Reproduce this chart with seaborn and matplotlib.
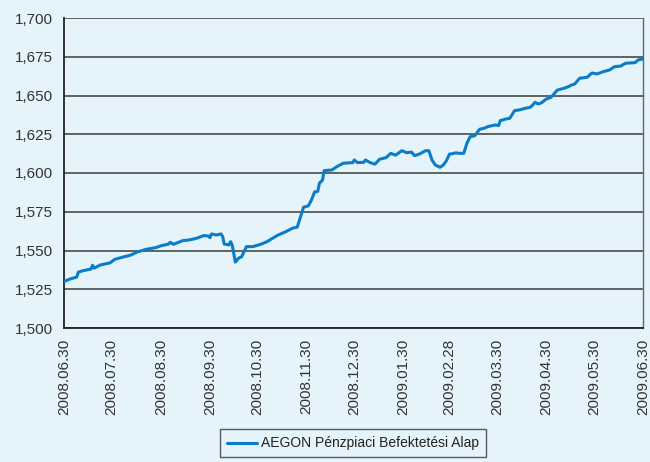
import matplotlib
matplotlib.use("Agg")
import matplotlib.pyplot as plt
import matplotlib.ticker as mticker
import seaborn as sns
import pandas as pd

dates = [
    "2008-06-30", "2008-07-04", "2008-07-08", "2008-07-09", "2008-07-12", "2008-07-17",
    "2008-07-18", "2008-07-19", "2008-07-23", "2008-07-29", "2008-08-01", "2008-08-06",
    "2008-08-11", "2008-08-15", "2008-08-21", "2008-08-27", "2008-08-30", "2008-09-04",
    "2008-09-05", "2008-09-07", "2008-09-13", "2008-09-17", "2008-09-22", "2008-09-26",
    "2008-09-29", "2008-09-30", "2008-10-01", "2008-10-04", "2008-10-07", "2008-10-08",
    "2008-10-09", "2008-10-12", "2008-10-13", "2008-10-14", "2008-10-15", "2008-10-16",
    "2008-10-18", "2008-10-20", "2008-10-23", "2008-10-27", "2008-11-01", "2008-11-05",
    "2008-11-08", "2008-11-12", "2008-11-17", "2008-11-21", "2008-11-24", "2008-11-26",
    "2008-11-28", "2008-12-01", "2008-12-03", "2008-12-05", "2008-12-07", "2008-12-08",
    "2008-12-10", "2008-12-11", "2008-12-16", "2008-12-19", "2008-12-23", "2008-12-29",
    "2008-12-30", "2009-01-01", "2009-01-05", "2009-01-06", "2009-01-09", "2009-01-12",
    "2009-01-15", "2009-01-19", "2009-01-22", "2009-01-25", "2009-01-29", "2009-02-01",
    "2009-02-04", "2009-02-06", "2009-02-09", "2009-02-13", "2009-02-15", "2009-02-17",
    "2009-02-19", "2009-02-22", "2009-02-24", "2009-02-26", "2009-02-28", "2009-03-02",
    "2009-03-04", "2009-03-06", "2009-03-09", "2009-03-11", "2009-03-13", "2009-03-16",
    "2009-03-19", "2009-03-22", "2009-03-24", "2009-03-29", "2009-03-31", "2009-04-01",
    "2009-04-04", "2009-04-07", "2009-04-10", "2009-04-13", "2009-04-17", "2009-04-20",
    "2009-04-23", "2009-04-25", "2009-04-27", "2009-04-30", "2009-05-03", "2009-05-07",
    "2009-05-11", "2009-05-14", "2009-05-16", "2009-05-18", "2009-05-21", "2009-05-26",
    "2009-05-28", "2009-05-29", "2009-06-01", "2009-06-05", "2009-06-09", "2009-06-12",
    "2009-06-16", "2009-06-19", "2009-06-25", "2009-06-27", "2009-06-30",
]
values = [
    1.5300, 1.5317, 1.5328, 1.5360, 1.5370, 1.5380,
    1.5405, 1.5386, 1.5407, 1.5420, 1.5443, 1.5457,
    1.5470, 1.5490, 1.5508, 1.5519, 1.5530, 1.5542,
    1.5553, 1.5540, 1.5564, 1.5568, 1.5580, 1.5596,
    1.5594, 1.5583, 1.5607, 1.5600, 1.5607, 1.5590,
    1.5542, 1.5536, 1.5557, 1.5536, 1.5483, 1.5425,
    1.5450, 1.5460, 1.5525, 1.5525, 1.5540, 1.5557,
    1.5576, 1.5600, 1.5622, 1.5644, 1.5650, 1.5714,
    1.5779, 1.5788, 1.5826, 1.5878, 1.5882, 1.5934,
    1.5955, 1.6015, 1.6020, 1.6041, 1.6063, 1.6067,
    1.6084, 1.6067, 1.6069, 1.6084, 1.6067, 1.6057,
    1.6089, 1.6099, 1.6127, 1.6115, 1.6144, 1.6131,
    1.6135, 1.6112, 1.6122, 1.6144, 1.6144, 1.6084,
    1.6052, 1.6037, 1.6050, 1.6078, 1.6122, 1.6125,
    1.6130, 1.6127, 1.6127, 1.6192, 1.6234, 1.6241,
    1.6282, 1.6289, 1.6299, 1.6310, 1.6306, 1.6338,
    1.6347, 1.6353, 1.6402, 1.6407, 1.6418, 1.6424,
    1.6456, 1.6445, 1.6453, 1.6477, 1.6488, 1.6535,
    1.6546, 1.6557, 1.6568, 1.6574, 1.6611, 1.6618,
    1.6639, 1.6645, 1.6639, 1.6654, 1.6665, 1.6686,
    1.6690, 1.6708, 1.6712, 1.6730, 1.6735,
]
series_name = "AEGON Pénzpiaci Befektetési Alap"
x_ticks = ["2008-06-30", "2008-07-30", "2008-08-30", "2008-09-30", "2008-10-30",
           "2008-11-30", "2008-12-30", "2009-01-30", "2009-02-28", "2009-03-30",
           "2009-04-30", "2009-05-30", "2009-06-30"]
y_ticks = [1.500, 1.525, 1.550, 1.575, 1.600, 1.625, 1.650, 1.675, 1.700]

bg = "#E5F3FA"
sns.set_style("white")
plt.rcParams["font.family"] = ["Liberation Sans", "DejaVu Sans"]

df = pd.DataFrame({"date": pd.to_datetime(dates), "value": values, "series": series_name})

fig = plt.figure(figsize=(6.5, 4.62), dpi=100, facecolor=bg)
ax = fig.add_axes([64 / 650, 1 - 328 / 462, 579 / 650, 310 / 462])
ax.set_facecolor(bg)

sns.lineplot(data=df, x="date", y="value", hue="series", palette=["#0A7DC8"],
             linewidth=2.2, ax=ax, zorder=3)

ax.set_ylim(1.5, 1.7)
ax.set_xlim(pd.Timestamp("2008-06-30"), pd.Timestamp("2009-06-30"))
ax.set_yticks(y_ticks)
ax.yaxis.set_major_formatter(mticker.FuncFormatter(lambda v, p: f"{v:.3f}".replace(".", ",")))
xt = pd.to_datetime(x_ticks)
ax.set_xticks(xt)
ax.set_xticklabels([d.strftime("%Y.%m.%d") for d in xt], rotation=90)
ax.set_xlabel("")
ax.set_ylabel("")

ax.grid(axis="y", color="#4a4a4a", linewidth=1.2, zorder=1)
ax.grid(axis="x", visible=False)
for s in ["left", "bottom"]:
    ax.spines[s].set_color("#222222")
    ax.spines[s].set_linewidth(1.3)
ax.spines["right"].set_color("#666666")
ax.spines["right"].set_linewidth(1.0)
ax.spines["top"].set_visible(False)

ax.tick_params(axis="y", direction="out", length=5, width=1, color="#222222",
               labelsize=11, labelcolor="#333333", pad=3)
ax.tick_params(axis="x", direction="inout", length=8, width=1, color="#222222",
               labelsize=11, labelcolor="#333333", pad=4)

ax.legend_.remove()
handles, labels = ax.get_legend_handles_labels()
leg = fig.legend(handles, labels, loc="lower center", bbox_to_anchor=(0.543, -0.005),
                 frameon=True, fancybox=False, handlelength=2.2, handletextpad=0.3,
                 borderpad=0.5, prop={"size": 10})
leg.get_frame().set_edgecolor("#333333")
leg.get_frame().set_facecolor(bg)
leg.get_frame().set_linewidth(1.0)
for t in leg.get_texts():
    t.set_color("#222222")

fig.savefig("out.png", dpi=100, facecolor=bg)
